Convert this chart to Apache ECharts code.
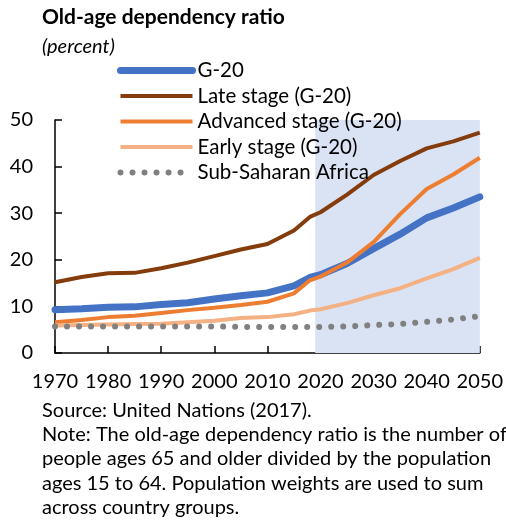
<!DOCTYPE html>
<html>
<head>
<meta charset="utf-8">
<script src="https://cdn.jsdelivr.net/npm/echarts@6/dist/echarts.min.js"></script>
<style>
  html, body { margin: 0; padding: 0; background: #fff; }
  #chart { width: 506px; height: 523px; }
</style>
</head>
<body>
<div id="chart"></div>
<script>
// 연도별 노년부양비 (퍼센트), 그림에서 읽은 값
const years = [1970, 1975, 1980, 1985, 1990, 1995, 2000, 2005, 2010, 2015, 2018, 2020, 2025, 2030, 2035, 2040, 2045, 2050];
const g20 = [9.3, 9.5, 9.8, 9.9, 10.4, 10.8, 11.6, 12.3, 12.9, 14.4, 16.2, 16.8, 19.2, 22.4, 25.5, 29.0, 31.1, 33.5];
const lateStage = [15.2, 16.3, 17.1, 17.2, 18.2, 19.4, 20.8, 22.2, 23.4, 26.3, 29.2, 30.2, 34.0, 38.2, 41.2, 43.9, 45.4, 47.3];
const advancedStage = [6.6, 7.1, 7.7, 8.0, 8.6, 9.2, 9.7, 10.3, 11.0, 12.8, 15.6, 16.4, 19.4, 23.8, 29.8, 35.2, 38.3, 41.9];
const earlyStage = [5.9, 6.0, 6.1, 6.2, 6.3, 6.6, 6.9, 7.5, 7.7, 8.3, 9.1, 9.4, 10.7, 12.4, 13.9, 16.0, 18.0, 20.4];
const subSaharan = [5.7, 5.7, 5.7, 5.7, 5.7, 5.7, 5.7, 5.6, 5.6, 5.6, 5.6, 5.6, 5.7, 6.0, 6.2, 6.7, 7.2, 7.9];
const seriesNames = ['G-20', 'Late stage (G-20)', 'Advanced stage (G-20)', 'Early stage (G-20)', 'Sub-Saharan Africa'];
const shadeFrom = 2019;
const shadeTo = 2050;

const FONT = 'Lato';
const pairs = (vals) => years.map((y, i) => [y, vals[i]]);

// 계열별 선 스타일 (범례와 공유)
const lineStyles = [
  { color: '#4472C4', width: 7, cap: 'round' },
  { color: '#843C0C', width: 4 },
  { color: '#ED7D31', width: 4 },
  { color: '#F4B183', width: 4 },
  { color: '#808080', width: 6, type: [0.01, 12], cap: 'round' }
];
const seriesData = [g20, lateStage, advancedStage, earlyStage, subSaharan];

const chart = echarts.init(document.getElementById('chart'), null, { renderer: 'canvas' });

chart.setOption({
  animation: false,
  textStyle: { fontFamily: FONT, color: '#000' },
  title: {
    text: 'Old-age dependency ratio',
    subtext: '(percent)',
    left: 42,
    top: 7,
    padding: 0,
    itemGap: 9,
    textStyle: { fontFamily: FONT, fontWeight: 'bold', fontSize: 21, color: '#000' },
    subtextStyle: { fontFamily: FONT, fontStyle: 'italic', fontSize: 20, color: '#000' }
  },
  legend: {
    data: seriesNames.map((n, i) => ({ name: n, lineStyle: lineStyles[i], itemStyle: { opacity: 0 } })),
    orient: 'vertical',
    left: 117,
    top: 60,
    padding: 0,
    itemWidth: 72,
    itemHeight: 14,
    itemGap: 4.5,
    itemStyle: { opacity: 0 },
    textStyle: { fontFamily: FONT, fontSize: 20.5, color: '#000', lineHeight: 20 }
  },
  grid: { left: 55, right: 22, top: 120, bottom: 170 },
  xAxis: {
    type: 'value',
    min: 1970,
    max: 2050,
    interval: 10,
    splitLine: { show: false },
    axisLine: { lineStyle: { color: '#000', width: 1.5 } },
    axisTick: { inside: true, length: 7, lineStyle: { color: '#000', width: 1.5 } },
    axisLabel: { margin: 19, fontFamily: FONT, fontSize: 20, color: '#000', formatter: (v) => String(v) }
  },
  yAxis: {
    type: 'value',
    min: 0,
    max: 50,
    interval: 10,
    splitLine: { show: false },
    axisLine: { show: true, lineStyle: { color: '#000', width: 1.5 } },
    axisTick: { show: true, inside: true, length: 7, lineStyle: { color: '#000', width: 1.5 } },
    axisLabel: { margin: 22, fontFamily: FONT, fontSize: 20, color: '#000' }
  },
  graphic: [{
    type: 'text',
    left: 42,
    top: 398,
    style: {
      text: 'Source: United Nations (2017).\nNote: The old-age dependency ratio is the number of\npeople ages 65 and older divided by the population\nages 15 to 64. Population weights are used to sum\nacross country groups.',
      font: '20px Lato',
      lineHeight: 24.4,
      fill: '#000'
    }
  }],
  series: [
    {
      // 투영 구간 음영
      name: 'shade',
      type: 'line',
      data: [],
      silent: true,
      markArea: {
        silent: true,
        itemStyle: { color: '#DAE3F3' },
        data: [[{ xAxis: shadeFrom }, { xAxis: shadeTo }]]
      }
    }
  ].concat(seriesNames.map((n, i) => ({
    name: n,
    type: 'line',
    symbol: 'none',
    data: pairs(seriesData[i]),
    lineStyle: lineStyles[i],
    itemStyle: { color: lineStyles[i].color }
  })))
});
</script>
</body>
</html>
